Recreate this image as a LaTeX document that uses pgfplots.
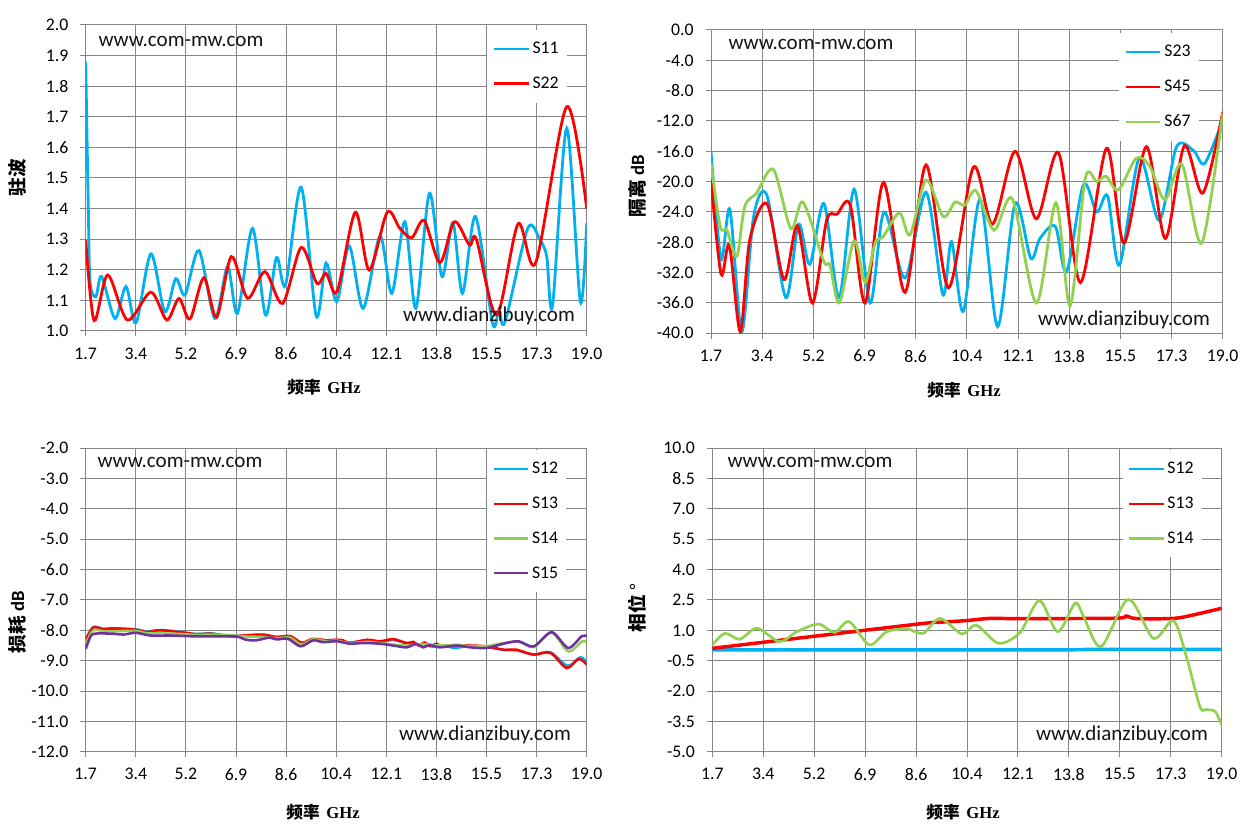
\documentclass[border=0pt]{standalone}
\usepackage{pgfplots}
\pgfplotsset{compat=1.18}
\usepackage{fontspec}
\setmainfont{Carlito}
\newfontfamily\cjk{Noto Sans CJK SC}
\newfontfamily\serifb{Liberation Serif}
\definecolor{gridgray}{RGB}{134,134,134}
\definecolor{xlblue}{RGB}{0,176,240}
\definecolor{xlred}{RGB}{255,0,0}
\definecolor{xlgreen}{RGB}{146,208,80}
\definecolor{xlpurple}{RGB}{112,48,160}
\definecolor{wm}{RGB}{20,20,20}
\newcommand\tk{\fontsize{13.3}{15}\selectfont}
\newcommand\wmf{\fontsize{15.8}{18}\selectfont}
\newcommand\lbf{\fontsize{12.5}{14}\selectfont}
\newcommand\ylf{\fontsize{14}{16}\selectfont}
\pgfplotsset{
  xl/.style={
    scale only axis,
    xmin=1.7, xmax=19.0,
    xtick={1.7,3.43,5.16,6.89,8.62,10.35,12.08,13.81,15.54,17.27,19.0},
    xticklabels={1.7,3.4,5.2,6.9,8.6,10.4,12.1,13.8,15.5,17.3,19.0},
    grid=major,
    major grid style={gridgray, line width=0.75pt},
    axis line style={gridgray, line width=0.75pt},
    tick style={gridgray, line width=0.75pt},
    tick align=outside, major tick length=4pt,
    tick pos=left,
    ticklabel style={font=\tk, text=black},
    xticklabel style={yshift=-5pt},
    /pgf/number format/assume math mode=true,
    yticklabel style={xshift=-5.5pt, /pgf/number format/.cd, fixed, fixed zerofill, precision=1},
    legend cell align=left,
    legend style={fill=white, draw=none, font=\tk, row sep=12pt, inner xsep=4pt, inner ysep=7pt},
    legend image code/.code={\draw[#1, line width=2pt] (0pt,0pt) -- (26pt,0pt);},
  },
  thinleg/.style={legend image code/.code={\draw[#1, line width=1.6pt] (0pt,0pt) -- (26pt,0pt);}},
}
\begin{document}
\begin{tikzpicture}
\useasboundingbox (0,0) rectangle (937.5pt,623.25pt);

% ---------------- top left ----------------
\begin{axis}[xl, at={(64.28pt,375pt)}, anchor=south west, width=375.75pt, height=229.5pt,
  ymin=1.0, ymax=2.0, ytick={1.0,1.1,...,2.01},
  legend style={at={(0.801,0.984)}, anchor=north west}]
\addplot[xlblue, line width=2.1pt, smooth] coordinates {
(1.70,1.88)(1.79,1.40)(1.85,1.16)(2.05,1.112)(2.25,1.178)(2.71,1.041)(3.09,1.145)(3.44,1.027)
(3.95,1.252)(4.43,1.063)(4.81,1.171)(5.13,1.118)(5.61,1.263)(6.16,1.041)(6.60,1.21)(6.94,1.058)
(7.46,1.335)(7.91,1.052)(8.29,1.24)(8.60,1.15)(9.14,1.47)(9.66,1.049)(10.00,1.222)(10.37,1.096)
(10.80,1.278)(11.28,1.074)(11.86,1.31)(12.27,1.123)(12.72,1.357)(13.10,1.074)(13.57,1.45)(14.00,1.178)
(14.38,1.354)(14.71,1.123)(15.16,1.374)(15.75,1.025)(15.97,1.07)(16.18,1.03)(16.96,1.335)(17.39,1.297)
(17.62,1.243)(17.82,1.082)(18.31,1.662)(18.78,1.096)(19.00,1.352)};
\addlegendentry{S11}
\addplot[xlred, line width=2.1pt, smooth] coordinates {
(1.70,1.297)(1.99,1.034)(2.46,1.183)(3.14,1.036)(3.95,1.127)(4.50,1.036)(4.92,1.106)(5.30,1.039)
(5.78,1.174)(6.22,1.045)(6.73,1.243)(7.29,1.107)(7.89,1.194)(8.50,1.09)(9.14,1.273)(9.68,1.156)
(10.00,1.188)(10.38,1.129)(11.01,1.388)(11.49,1.199)(12.11,1.388)(12.55,1.335)(12.96,1.305)(13.39,1.361)
(13.93,1.223)(14.43,1.357)(14.95,1.281)(15.19,1.30)(15.89,1.052)(16.63,1.35)(17.24,1.223)(18.31,1.733)
(19.00,1.40)};
\addlegendentry{S22}
\end{axis}

% ---------------- top right ----------------
\begin{axis}[xl, at={(533.25pt,373.275pt)}, anchor=south west, width=383.775pt, height=227.475pt,
  ymin=-40, ymax=0, ytick={-40,-36,...,0},
  legend style={at={(0.797,0.99)}, anchor=north west}]
\addplot[xlblue, line width=2.1pt, smooth] coordinates {
(1.70,-16.0)(2.04,-30.2)(2.34,-23.7)(2.74,-39.8)(3.14,-24.6)(3.59,-21.8)(4.23,-35.3)(4.66,-25.6)
(5.04,-30.9)(5.52,-22.9)(6.03,-35.3)(6.54,-21.0)(7.08,-36.0)(7.55,-24.0)(8.26,-32.7)(8.97,-21.4)
(9.54,-34.9)(9.83,-27.9)(10.23,-37.1)(10.80,-22.3)(11.39,-39.1)(11.98,-22.9)(12.51,-30.1)(12.82,-27.5)
(13.34,-25.9)(13.72,-31.9)(14.29,-20.4)(14.74,-24.0)(15.11,-21.9)(15.51,-31.0)(16.18,-16.9)(16.85,-25.1)
(17.44,-15.4)(18.01,-15.9)(18.39,-17.6)(19.00,-11.9)};
\addlegendentry{S23}
\addplot[xlred, line width=2.1pt, smooth] coordinates {
(1.70,-19.8)(2.04,-32.2)(2.32,-28.4)(2.69,-39.8)(3.01,-27.7)(3.59,-22.9)(4.17,-32.9)(4.62,-25.8)
(5.13,-36.0)(5.61,-25.1)(5.96,-24.3)(6.41,-23.1)(6.91,-36.0)(7.53,-20.1)(8.26,-34.6)(8.97,-17.8)
(9.73,-34.0)(10.57,-18.1)(11.22,-25.6)(11.98,-16.0)(12.70,-24.9)(13.45,-16.2)(14.19,-33.3)(15.07,-15.6)
(15.66,-28.1)(16.42,-15.4)(17.06,-27.5)(17.70,-15.3)(18.33,-21.5)(19.00,-10.8)};
\addlegendentry{S45}
\addplot[xlgreen, line width=2.1pt, smooth] coordinates {
(1.70,-17.6)(2.01,-25.9)(2.24,-26.4)(2.57,-29.9)(2.84,-23.3)(3.24,-21.5)(3.81,-18.4)(4.40,-26.2)
(4.81,-22.7)(5.51,-30.5)(5.72,-31.0)(6.04,-36.0)(6.54,-27.8)(6.91,-33.3)(7.25,-28.1)(7.53,-27.2)
(8.07,-24.1)(8.43,-27.0)(8.97,-19.8)(9.55,-24.6)(9.95,-22.7)(10.28,-23.1)(10.66,-21.2)(11.27,-26.4)
(11.89,-22.3)(12.70,-36.0)(13.36,-22.8)(13.84,-36.4)(14.35,-19.6)(14.74,-20.0)(15.06,-19.3)(15.47,-21.1)
(16.08,-16.9)(16.54,-18.0)(17.05,-22.4)(17.62,-17.7)(18.29,-28.1)(19.00,-10.9)};
\addlegendentry{S67}
\end{axis}

% ---------------- bottom left ----------------
\begin{axis}[xl, thinleg, at={(64.28pt,59.475pt)}, anchor=south west, width=375.75pt, height=227.55pt,
  ymin=-12, ymax=-2, ytick={-12,-11,...,-2},
  legend style={at={(0.801,0.995)}, anchor=north west}]
\addplot[xlblue, line width=1.9pt, smooth] coordinates {
(1.70,-8.30)(1.96,-7.89)(2.31,-7.95)(2.65,-7.93)(3.43,-7.97)(3.81,-8.04)(4.26,-7.99)(4.95,-8.05)
(5.52,-8.12)(6.04,-8.10)(6.68,-8.19)(7.15,-8.17)(7.82,-8.15)(8.29,-8.22)(8.76,-8.20)(9.16,-8.43)
(9.55,-8.30)(10.02,-8.34)(10.35,-8.32)(10.82,-8.40)(11.41,-8.33)(11.86,-8.38)(12.32,-8.32)(12.79,-8.43)
(13.36,-8.48)(13.81,-8.55)(14.10,-8.50)(14.40,-8.58)(14.97,-8.52)(15.54,-8.55)(16.13,-8.64)(16.58,-8.66)
(17.17,-8.80)(17.74,-8.72)(18.34,-9.17)(18.78,-8.89)(19.00,-9.06)};
\addlegendentry{S12}
\addplot[xlred, line width=1.9pt, smooth] coordinates {
(1.70,-8.33)(1.96,-7.91)(2.31,-7.97)(2.65,-7.94)(3.43,-7.98)(3.81,-8.06)(4.26,-8.00)(4.95,-8.06)
(5.52,-8.13)(6.04,-8.11)(6.68,-8.20)(7.15,-8.17)(7.82,-8.14)(8.29,-8.22)(8.76,-8.19)(9.16,-8.41)
(9.55,-8.28)(10.02,-8.33)(10.35,-8.31)(10.59,-8.33)(10.82,-8.42)(11.41,-8.31)(11.86,-8.36)(12.32,-8.29)
(12.79,-8.42)(13.00,-8.38)(13.20,-8.50)(13.40,-8.40)(13.60,-8.52)(13.81,-8.44)(14.00,-8.53)(14.40,-8.50)
(14.97,-8.50)(15.54,-8.53)(16.13,-8.64)(16.58,-8.64)(17.17,-8.80)(17.74,-8.74)(18.31,-9.24)(18.72,-8.94)
(19.00,-9.13)};
\addlegendentry{S13}
\addplot[xlgreen, line width=1.9pt, smooth] coordinates {
(1.70,-8.45)(1.96,-8.00)(2.31,-8.03)(2.65,-8.03)(3.43,-8.02)(3.81,-8.10)(4.26,-8.09)(4.95,-8.12)
(5.52,-8.15)(6.04,-8.14)(6.68,-8.16)(7.15,-8.20)(7.82,-8.22)(8.29,-8.26)(8.76,-8.24)(9.14,-8.47)
(9.55,-8.30)(10.02,-8.36)(10.35,-8.34)(10.82,-8.42)(11.41,-8.38)(11.86,-8.42)(12.44,-8.48)(12.79,-8.50)
(13.36,-8.45)(13.81,-8.50)(14.52,-8.48)(14.97,-8.52)(15.54,-8.52)(16.13,-8.42)(16.65,-8.38)(17.17,-8.55)
(17.79,-8.08)(18.36,-8.69)(18.85,-8.36)(19.00,-8.39)};
\addlegendentry{S14}
\addplot[xlpurple, line width=1.9pt, smooth] coordinates {
(1.70,-8.61)(1.86,-8.22)(2.01,-8.11)(2.65,-8.11)(3.00,-8.14)(3.43,-8.08)(3.93,-8.17)(4.62,-8.17)
(5.52,-8.20)(6.22,-8.20)(6.89,-8.20)(7.24,-8.31)(7.58,-8.33)(8.05,-8.24)(8.29,-8.30)(8.69,-8.28)
(9.12,-8.53)(9.55,-8.33)(9.90,-8.39)(10.35,-8.36)(10.82,-8.44)(11.28,-8.42)(11.86,-8.44)(12.44,-8.52)
(12.79,-8.56)(13.10,-8.45)(13.36,-8.56)(13.58,-8.48)(13.93,-8.56)(14.52,-8.50)(14.97,-8.56)(15.54,-8.58)
(16.13,-8.44)(16.65,-8.36)(17.17,-8.53)(17.79,-8.06)(18.36,-8.58)(18.83,-8.19)(19.00,-8.20)};
\addlegendentry{S15}
\end{axis}

% ---------------- bottom right ----------------
\begin{axis}[xl, thinleg, at={(534.225pt,59.475pt)}, anchor=south west, width=382.05pt, height=227.55pt,
  ymin=-5, ymax=10, ytick={-5,-3.5,...,10.1},
  legend style={at={(0.805,0.995)}, anchor=north west}]
\addplot[xlblue, line width=2.6pt] coordinates {
(1.70,0.03)(8.62,0.03)(13.81,0.03)(14.50,0.06)(19.00,0.06)};
\addlegendentry{S12}
\addplot[xlred, line width=2.6pt, smooth] coordinates {
(1.70,0.11)(8.62,1.30)(9.43,1.40)(10.32,1.48)(11.13,1.59)(12.05,1.58)(15.40,1.60)(15.76,1.71)
(16.10,1.58)(17.36,1.59)(18.03,1.76)(19.00,2.09)};
\addlegendentry{S13}
\addplot[xlgreen, line width=2pt, smooth] coordinates {
(1.70,0.28)(2.13,0.85)(2.63,0.56)(3.22,1.10)(3.98,0.44)(4.57,0.93)(5.30,1.31)(5.85,0.90)
(6.35,1.43)(7.03,0.28)(7.62,0.93)(8.31,1.07)(8.86,0.85)(9.43,1.59)(10.18,0.82)(10.66,1.26)
(11.42,0.36)(12.15,0.89)(12.81,2.47)(13.43,0.93)(14.02,2.34)(14.31,1.68)(14.90,0.19)(15.83,2.53)
(16.68,0.60)(17.36,1.48)(17.80,-0.30)(18.26,-2.77)(18.48,-2.91)(18.78,-3.02)(19.00,-3.68)};
\addlegendentry{S14}
\end{axis}

% ---------------- texts ----------------
\def\P#1#2{({#1*0.75pt},{(831-#2)*0.75pt})}
\node[text=wm, font=\wmf] at \P{181}{41} {www.com-mw.com};
\node[text=wm, font=\wmf] at \P{489}{316} {www.dianzibuy.com};
\node[text=wm, font=\wmf] at \P{811}{44} {www.com-mw.com};
\node[text=wm, font=\wmf] at \P{1124}{320} {www.dianzibuy.com};
\node[text=wm, font=\wmf] at \P{180}{462} {www.com-mw.com};
\node[text=wm, font=\wmf] at \P{485}{735} {www.dianzibuy.com};
\node[text=wm, font=\wmf] at \P{810}{462} {www.com-mw.com};
\node[text=wm, font=\wmf] at \P{1122}{735} {www.dianzibuy.com};

\node[rotate=90, font=\ylf] at \P{17}{178} {\cjk\bfseries 驻波};
\node[rotate=90, font=\ylf] at \P{637}{186} {{\cjk\bfseries 隔离} \bfseries dB};
\node[rotate=90, font=\ylf] at \P{17}{622} {{\cjk\bfseries 损耗} \bfseries dB};
\node[rotate=90, font=\ylf] at \P{637}{608} {{\cjk\bfseries 相位} {\cjk °}};

\node[font=\lbf] at \P{324}{387} {{\cjk\bfseries 频率}\hspace{5pt}{\serifb\bfseries GHz}};
\node[font=\lbf] at \P{964}{390} {{\cjk\bfseries 频率}\hspace{5pt}{\serifb\bfseries GHz}};
\node[font=\lbf] at \P{323}{812} {{\cjk\bfseries 频率}\hspace{5pt}{\serifb\bfseries GHz}};
\node[font=\lbf] at \P{963}{812} {{\cjk\bfseries 频率}\hspace{5pt}{\serifb\bfseries GHz}};
\end{tikzpicture}
\end{document}
